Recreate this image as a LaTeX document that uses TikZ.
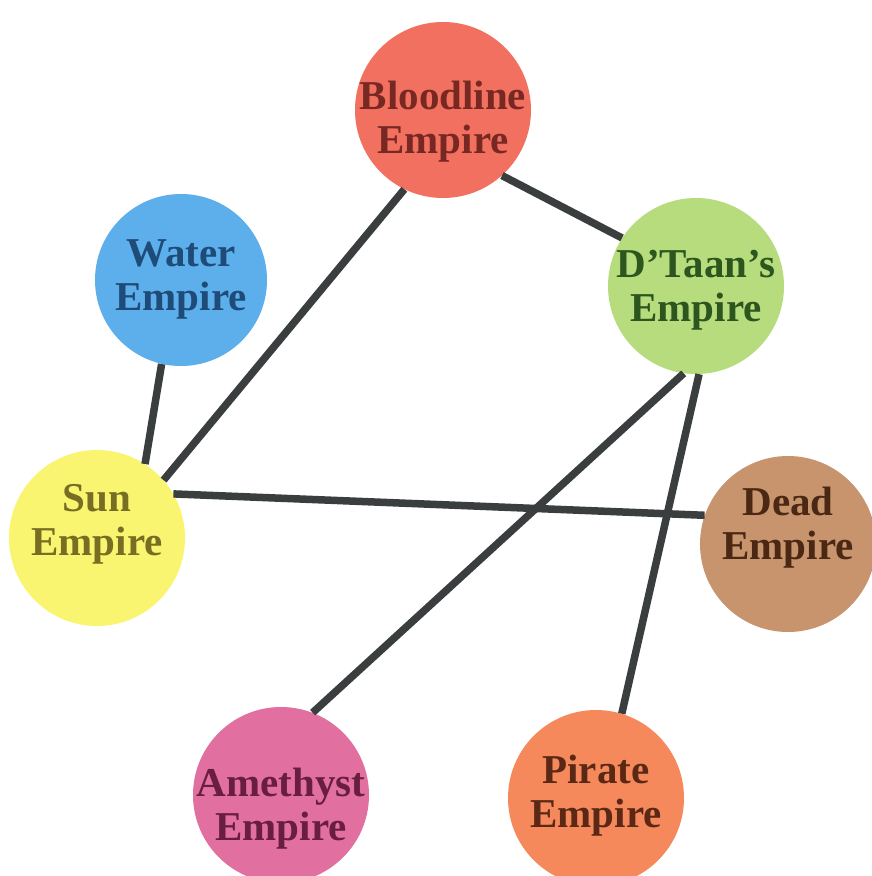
\documentclass[tikz,border=0pt]{standalone}
\usepackage{fontspec}
\setmainfont{Liberation Serif}
\definecolor{cBlood}{RGB}{242,112,95}
\definecolor{tBlood}{RGB}{120,40,35}
\definecolor{cWater}{RGB}{92,175,235}
\definecolor{tWater}{RGB}{30,75,120}
\definecolor{cDtaan}{RGB}{182,220,126}
\definecolor{tDtaan}{RGB}{45,85,30}
\definecolor{cSun}{RGB}{250,245,112}
\definecolor{tSun}{RGB}{120,110,35}
\definecolor{cDead}{RGB}{200,148,110}
\definecolor{tDead}{RGB}{75,40,20}
\definecolor{cAmeth}{RGB}{225,112,160}
\definecolor{tAmeth}{RGB}{105,30,65}
\definecolor{cPirate}{RGB}{245,137,92}
\definecolor{tPirate}{RGB}{90,40,20}
\definecolor{linkgray}{RGB}{58,62,62}
\tikzset{
  empire/.style={circle, minimum size=176pt, inner sep=0pt},
  lbl/.style={inner sep=0pt, align=center,
    font=\fontsize{41}{44}\selectfont\bfseries},
  link/.style={draw=linkgray, line width=7.5pt}
}
\begin{document}
\begin{tikzpicture}[x=1pt,y=-1pt]
\useasboundingbox[fill=white] (0,0) rectangle (872,876);
\node[empire, fill=cBlood, label={[lbl, text=tBlood, yshift=-12pt]center:Bloodline\\Empire}] (blood) at (443,110) {};
\node[empire, fill=cWater, minimum size=172pt, label={[lbl, text=tWater, yshift=1pt]center:Water\\Empire}] (water) at (181,280) {};
\node[empire, fill=cDtaan, label={[lbl, text=tDtaan, yshift=-4pt]center:D'Taan's\\Empire}] (dtaan) at (696,286) {};
\node[empire, fill=cSun, label={[lbl, text=tSun, yshift=14pt]center:Sun\\Empire}] (sun) at (97,538) {};
\node[empire, fill=cDead, label={[lbl, text=tDead, yshift=16pt]center:Dead\\Empire}] (dead) at (788,544) {};
\node[empire, fill=cAmeth, label={[lbl, text=tAmeth, yshift=-14pt]center:Amethyst\\Empire}] (ameth) at (281,795) {};
\node[empire, fill=cPirate, label={[lbl, text=tPirate, yshift=2pt]center:Pirate\\Empire}] (pirate) at (596,798) {};
\draw[link] (blood.312) -- (dtaan.147);
\draw[link] (blood.244) -- (sun.41);
\draw[link] (water.257) -- (sun.57);
\draw[link] (sun.30) -- (dead.161);
\draw[link] (dtaan.262) -- (ameth.69);
\draw[link] (dtaan.272) -- (pirate.73);
\end{tikzpicture}
\end{document}
